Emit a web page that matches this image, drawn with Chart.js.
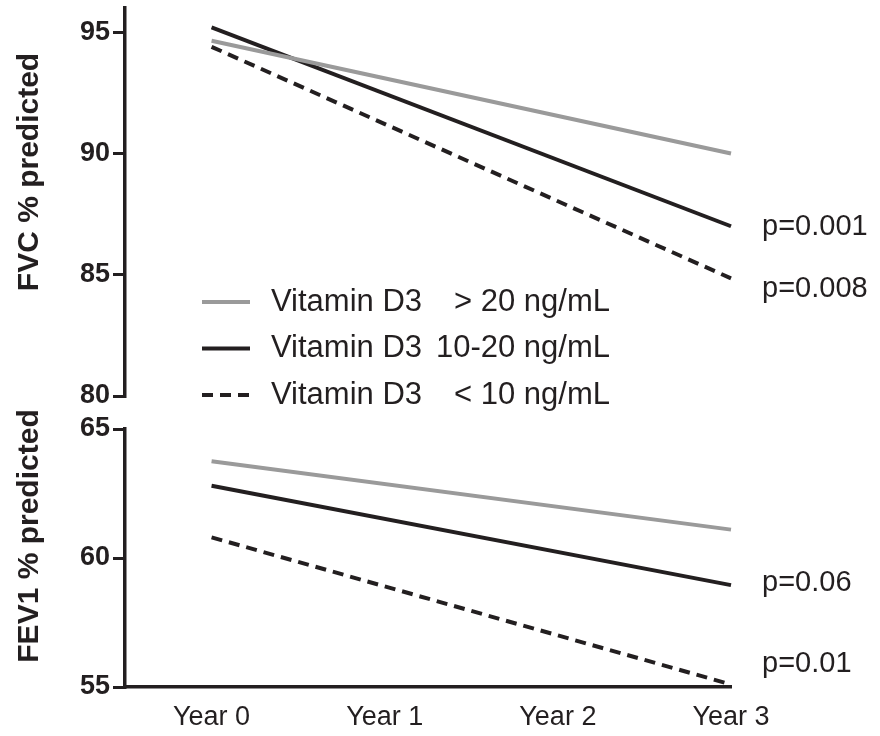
<!DOCTYPE html>
<html>
<head>
<meta charset="utf-8">
<script src="https://cdn.jsdelivr.net/npm/chart.js@4.4.1/dist/chart.umd.min.js"></script>
<style>
  html, body { margin: 0; padding: 0; background: #fff; }
  #wrap { position: relative; width: 880px; height: 736px; }
  .panel { position: absolute; left: 0; width: 880px; }
</style>
</head>
<body>
<div id="wrap">
  <div class="panel" style="top:400px;height:336px;"><canvas id="fev1Chart"></canvas></div>
  <div class="panel" style="top:0;height:420px;"><canvas id="fvcChart"></canvas></div>
</div>
<script>
// data
const years = ['Year 0', 'Year 1', 'Year 2', 'Year 3'];
const measuredAt = [0, 3];
const groupName = 'Vitamin D3';
const groupRanges = ['> 20 ng/mL', '10-20 ng/mL', '< 10 ng/mL'];

const fvcHigh = [94.65, 90.0];
const fvcMid = [95.2, 87.0];
const fvcLow = [94.4, 84.85];
const fvcPValues = ['', 'p=0.001', 'p=0.008'];
const fvcTicks = [80, 85, 90, 95];

const fev1High = [63.75, 61.1];
const fev1Mid = [62.8, 58.95];
const fev1Low = [60.8, 55.1];
const fev1PValues = ['', 'p=0.06', 'p=0.01'];
const fev1Ticks = [55, 60, 65];

const FONT = '"Liberation Sans", Arial, sans-serif';
const INK = '#231f20';
const GREY = '#9a9a9a';
const lineStyles = [
    { color: GREY, dash: [] },
    { color: INK, dash: [] },
    { color: INK, dash: [11, 7] }
];

function toPoints(values) {
    return measuredAt.map((x, i) => ({ x: x, y: values[i] }));
}

function makeDatasets(series) {
    return series.map((values, i) => ({
        label: groupName + ' ' + groupRanges[i],
        data: toPoints(values),
        borderColor: lineStyles[i].color,
        borderDash: lineStyles[i].dash,
        borderWidth: 4,
        pointRadius: 0,
        fill: false,
        tension: 0,
        clip: false
    }));
}

// y-axis title, p-values and (optionally) legend drawn on top
function annotations(title, titleY, pValues, pOffsets, showLegend) {
    return {
        id: 'annotations',
        afterDraw(chart) {
            const ctx = chart.ctx;
            const xs = chart.scales.x;
            const ys = chart.scales.y;
            ctx.save();
            ctx.fillStyle = INK;

            // axis title
            ctx.save();
            ctx.translate(30, titleY);
            ctx.rotate(-Math.PI / 2);
            ctx.font = 'bold 30px ' + FONT;
            ctx.textAlign = 'center';
            ctx.textBaseline = 'middle';
            ctx.fillText(title, 0, 0);
            ctx.restore();

            // p-values next to the line ends
            ctx.font = '29px ' + FONT;
            ctx.textAlign = 'left';
            ctx.textBaseline = 'middle';
            chart.data.datasets.forEach((ds, i) => {
                if (!pValues[i]) return;
                const last = ds.data[ds.data.length - 1];
                ctx.fillText(pValues[i], xs.right + 31, ys.getPixelForValue(last.y) + pOffsets[i]);
            });

            // legend
            if (showLegend) {
                chart.data.datasets.forEach((ds, i) => {
                    const rowY = 302 + i * 46.5;
                    ctx.beginPath();
                    ctx.strokeStyle = ds.borderColor;
                    ctx.lineWidth = 4;
                    ctx.setLineDash(ds.borderDash);
                    ctx.moveTo(202, rowY);
                    ctx.lineTo(250, rowY);
                    ctx.stroke();
                    ctx.setLineDash([]);
                    ctx.font = '31px ' + FONT;
                    ctx.textAlign = 'left';
                    ctx.fillText(groupName, 271, rowY);
                    ctx.textAlign = 'right';
                    ctx.fillText(groupRanges[i], 610, rowY);
                });
            }
            ctx.restore();
        }
    };
}

function yAxis(min, max, tickValues) {
    return {
        type: 'linear',
        min: min,
        max: max,
        afterFit(scale) {
            scale.width = 125;
            scale.paddingTop = 0;
            scale.paddingBottom = 0;
        },
        afterBuildTicks(scale) { scale.ticks = tickValues.map(v => ({ value: v })); },
        border: { display: true, color: INK, width: 3.5 },
        grid: { display: true, drawOnChartArea: false, drawTicks: true, tickLength: 12, color: INK, lineWidth: 3 },
        ticks: { color: INK, padding: 3, font: { family: FONT, size: 27, weight: 'bold' } }
    };
}

function xAxis(visible) {
    return {
        type: 'linear',
        min: -0.5,
        max: 3,
        display: visible,
        afterFit(scale) {
            scale.height = visible ? 49 : 0;
            scale.paddingLeft = 0;
            scale.paddingRight = 0;
        },
        afterBuildTicks(scale) { scale.ticks = years.map((_, i) => ({ value: i })); },
        border: { display: true, color: INK, width: 3.5 },
        grid: { display: true, drawOnChartArea: false, drawTicks: false },
        ticks: {
            color: INK,
            padding: 14,
            font: { family: FONT, size: 27 },
            callback: (v) => years[v]
        }
    };
}

new Chart(document.getElementById('fvcChart'), {
    type: 'line',
    data: { datasets: makeDatasets([fvcHigh, fvcMid, fvcLow]) },
    options: {
        responsive: true,
        maintainAspectRatio: false,
        animation: false,
        layout: { padding: { top: 8, bottom: 24, left: 0, right: 149 } },
        plugins: { legend: { display: false }, tooltip: { enabled: false } },
        scales: { x: xAxis(false), y: yAxis(80, 96, fvcTicks) }
    },
    plugins: [annotations('FVC % predicted', 172, fvcPValues, [0, 1, 11], true)]
});

new Chart(document.getElementById('fev1Chart'), {
    type: 'line',
    data: { datasets: makeDatasets([fev1High, fev1Mid, fev1Low]) },
    options: {
        responsive: true,
        maintainAspectRatio: false,
        animation: false,
        layout: { padding: { top: 29, bottom: 0, left: 0, right: 149 } },
        plugins: { legend: { display: false }, tooltip: { enabled: false } },
        scales: { x: xAxis(true), y: yAxis(55, 65, fev1Ticks) }
    },
    plugins: [annotations('FEV1 % predicted', 136, fev1PValues, [0, -2, -20], false)]
});
</script>
</body>
</html>
